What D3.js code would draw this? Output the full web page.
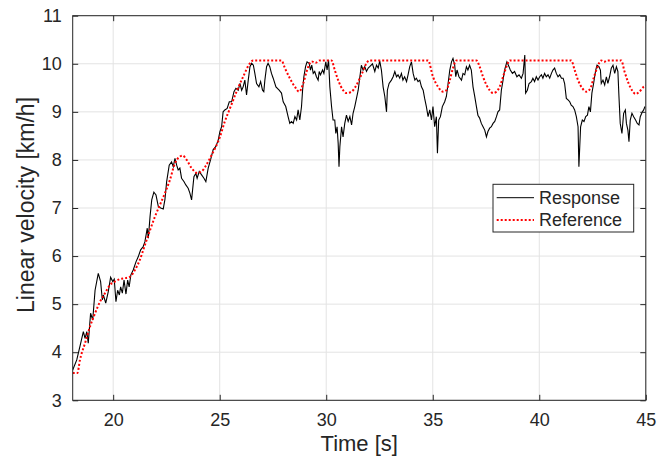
<!DOCTYPE html>
<html>
<head>
<meta charset="utf-8">
<script src="https://cdn.jsdelivr.net/npm/d3@7"></script>
<style>
  body { margin: 0; background: #fff; }
  text { font-family: "Liberation Sans", Arial, Helvetica, sans-serif; fill: #262626; }
</style>
</head>
<body>
<svg id="chart"></svg>
<script>
const margin = { top: 15.7, right: 24.2, bottom: 56.7, left: 72.7 };
const width = 670 - margin.left - margin.right;
const height = 457 - margin.top - margin.bottom;

// Tick values
const xTicks = [20, 25, 30, 35, 40, 45];
const yTicks = [3, 4, 5, 6, 7, 8, 9, 10, 11];

// Response (measured speed), time in s and velocity in km/h
const respT = [18.10, 18.29, 18.44, 18.60, 18.68, 18.76, 18.83, 18.94, 19.04, 19.15, 19.30, 19.41, 19.49, 19.54, 19.65, 19.77, 19.88, 19.98, 20.05, 20.13,
  20.21, 20.29, 20.35, 20.43, 20.51, 20.60, 20.68, 20.75, 20.83, 20.94, 21.07, 21.18, 21.29, 21.41, 21.49, 21.60, 21.65, 21.73, 21.81, 21.91,
  22.01, 22.12, 22.23, 22.35, 22.43, 22.51, 22.63, 22.74, 22.82, 22.90, 22.98, 23.05, 23.13, 23.21, 23.32, 23.41, 23.52, 23.60, 23.68, 23.79,
  23.88, 23.94, 24.04, 24.15, 24.26, 24.35, 24.46, 24.57, 24.69, 24.82, 24.93, 25.01, 25.09, 25.16, 25.24, 25.35, 25.45, 25.56, 25.67, 25.76,
  25.87, 25.95, 26.03, 26.10, 26.18, 26.26, 26.34, 26.42, 26.50, 26.58, 26.65, 26.73, 26.84, 26.92, 27.01, 27.07, 27.12, 27.20, 27.27, 27.35,
  27.43, 27.51, 27.64, 27.79, 27.90, 27.98, 28.10, 28.21, 28.29, 28.37, 28.45, 28.53, 28.61, 28.68, 28.76, 28.84, 28.89, 28.95, 29.03, 29.10,
  29.20, 29.26, 29.32, 29.39, 29.46, 29.54, 29.62, 29.67, 29.73, 29.83, 29.89, 29.98, 30.04, 30.11, 30.17, 30.25, 30.32, 30.40, 30.45, 30.51,
  30.56, 30.60, 30.64, 30.72, 30.79, 30.87, 30.95, 31.03, 31.11, 31.19, 31.26, 31.34, 31.42, 31.50, 31.58, 31.65, 31.73, 31.81, 31.89, 31.97,
  32.04, 32.17, 32.28, 32.36, 32.44, 32.51, 32.59, 32.67, 32.75, 32.83, 32.87, 32.95, 33.06, 33.14, 33.22, 33.30, 33.37, 33.45, 33.53, 33.60,
  33.68, 33.77, 33.84, 33.92, 34.00, 34.08, 34.16, 34.23, 34.31, 34.39, 34.47, 34.55, 34.62, 34.70, 34.78, 34.86, 34.94, 35.01, 35.09, 35.17,
  35.22, 35.28, 35.36, 35.45, 35.56, 35.64, 35.72, 35.80, 35.88, 35.95, 36.03, 36.08, 36.14, 36.23, 36.35, 36.42, 36.50, 36.58, 36.65, 36.73,
  36.81, 36.89, 36.97, 37.05, 37.12, 37.20, 37.28, 37.36, 37.44, 37.52, 37.59, 37.67, 37.75, 37.83, 37.91, 37.99, 38.06, 38.14, 38.22, 38.30,
  38.37, 38.48, 38.58, 38.64, 38.74, 38.84, 38.95, 39.05, 39.16, 39.24, 39.32, 39.36, 39.44, 39.52, 39.63, 39.70, 39.78, 39.86, 39.94, 40.02,
  40.10, 40.17, 40.25, 40.33, 40.41, 40.49, 40.57, 40.64, 40.72, 40.80, 40.88, 40.96, 41.04, 41.12, 41.19, 41.27, 41.35, 41.43, 41.50, 41.58,
  41.66, 41.74, 41.82, 41.86, 41.90, 41.94, 42.02, 42.10, 42.18, 42.26, 42.33, 42.40, 42.47, 42.55, 42.65, 42.71, 42.80, 42.87, 42.91, 42.99,
  43.07, 43.15, 43.22, 43.30, 43.38, 43.46, 43.54, 43.62, 43.69, 43.74, 43.80, 43.88, 43.96, 44.04, 44.09, 44.16, 44.21, 44.27, 44.35, 44.43,
  44.52, 44.60, 44.68, 44.74, 44.84, 44.90, 44.96];
const respV = [3.63, 3.84, 4.12, 4.43, 4.29, 4.43, 4.19, 4.81, 4.67, 5.29, 5.64, 5.47, 5.09, 5.19, 5.02, 5.26, 5.56, 5.47, 5.52, 5.05,
  5.29, 5.19, 5.36, 5.23, 5.50, 5.21, 5.50, 5.36, 5.61, 5.71, 5.88, 5.99, 6.13, 6.20, 6.30, 6.58, 6.37, 6.82, 7.17, 7.33,
  7.27, 7.03, 7.00, 6.98, 7.18, 7.55, 7.89, 7.96, 7.86, 8.03, 7.89, 7.79, 7.83, 7.62, 7.55, 7.48, 7.41, 7.31, 7.17, 7.65,
  7.72, 7.62, 7.76, 7.69, 7.62, 7.55, 7.83, 8.00, 8.21, 8.28, 8.41, 8.59, 8.69, 9.00, 9.04, 9.07, 9.21, 9.21, 9.42, 9.49,
  9.45, 9.59, 9.45, 9.52, 9.66, 9.35, 9.66, 9.94, 10.01, 9.97, 9.80, 9.59, 9.52, 9.63, 9.45, 9.42, 9.66, 9.94, 10.01, 9.94,
  9.80, 9.70, 9.52, 9.45, 9.39, 9.21, 9.11, 8.90, 8.76, 8.80, 8.76, 8.90, 8.83, 9.04, 8.83, 9.11, 9.45, 9.73, 9.94, 10.04,
  10.01, 9.87, 9.97, 9.80, 9.84, 9.73, 9.66, 9.84, 9.77, 9.87, 9.80, 10.04, 9.87, 10.08, 9.52, 9.11, 8.83, 8.83, 8.55, 8.69,
  8.35, 7.86, 8.28, 8.69, 8.48, 8.76, 8.93, 8.80, 8.90, 8.73, 8.97, 9.11, 9.28, 9.45, 9.73, 9.97, 9.87, 9.94, 9.84, 9.91,
  9.94, 10.00, 9.84, 9.97, 9.91, 10.06, 9.87, 9.52, 9.32, 9.00, 9.45, 9.59, 9.66, 9.73, 9.84, 9.73, 9.77, 9.70, 9.80, 9.66,
  9.73, 9.63, 9.77, 9.94, 10.04, 9.80, 9.66, 9.70, 9.63, 9.66, 9.52, 9.45, 9.28, 9.11, 8.90, 9.04, 8.83, 9.11, 8.69, 8.90,
  8.14, 8.83, 8.90, 9.11, 9.21, 9.32, 9.59, 9.87, 10.04, 10.11, 9.97, 9.73, 9.87, 9.73, 9.66, 9.80, 9.77, 9.94, 9.87, 9.97,
  9.87, 9.52, 9.32, 9.11, 8.93, 8.87, 8.76, 8.69, 8.62, 8.48, 8.59, 8.66, 8.69, 8.76, 8.80, 8.90, 9.00, 9.04, 9.45, 9.66,
  9.87, 10.04, 9.94, 9.87, 9.80, 9.84, 9.73, 9.77, 9.70, 9.80, 10.18, 9.39, 9.45, 9.59, 9.63, 9.70, 9.63, 9.73, 9.66, 9.73,
  9.77, 9.70, 9.80, 9.73, 9.77, 9.70, 9.80, 9.87, 9.91, 9.80, 9.73, 9.77, 9.70, 9.70, 9.59, 9.28, 9.25, 9.21, 9.14, 9.11,
  9.04, 8.90, 8.69, 7.86, 8.28, 8.69, 8.83, 8.80, 8.90, 8.93, 9.11, 9.00, 9.39, 9.59, 9.87, 9.97, 9.94, 9.87, 9.59, 9.66,
  9.56, 9.73, 9.59, 9.73, 9.91, 9.97, 9.80, 9.94, 9.84, 9.32, 8.76, 8.55, 8.97, 9.04, 8.76, 8.62, 8.38, 8.83, 8.97, 8.90,
  8.83, 8.76, 8.73, 8.90, 9.00, 9.04, 9.11];

// Reference (commanded speed)
const refT = [18.10, 18.32, 18.44, 18.68, 18.91, 19.15, 19.38, 19.62, 19.85, 20.08, 20.32, 20.55, 20.79, 21.02, 21.25, 21.49, 21.73, 21.96, 22.19, 22.43,
  22.66, 22.90, 23.13, 23.26, 23.45, 23.68, 23.94, 24.15, 24.38, 24.62, 25.01, 25.24, 25.48, 25.79, 26.10, 26.42, 26.57, 27.90, 28.06, 28.29,
  28.53, 28.73, 28.92, 29.08, 29.23, 29.31, 29.50, 29.70, 30.25, 30.40, 30.56, 30.79, 30.95, 31.19, 31.42, 31.65, 31.89, 32.01, 34.78, 35.01,
  35.25, 35.48, 35.64, 35.80, 35.95, 36.11, 37.05, 37.20, 37.36, 37.52, 37.67, 37.83, 37.99, 38.14, 38.30, 38.46, 38.62, 41.50, 41.66, 41.82,
  42.02, 42.21, 42.40, 42.55, 42.71, 42.91, 43.05, 43.22, 43.85, 44.00, 44.16, 44.35, 44.52, 44.70, 44.90, 45.00];
const refV = [3.57, 3.57, 3.84, 4.19, 4.53, 4.81, 5.05, 5.23, 5.40, 5.47, 5.52, 5.54, 5.57, 5.71, 5.92, 6.23, 6.54, 6.82, 7.06, 7.31,
  7.58, 7.93, 8.07, 8.09, 8.00, 7.83, 7.73, 7.76, 7.90, 8.10, 8.48, 8.80, 9.07, 9.42, 9.73, 10.01, 10.07, 10.07, 9.91, 9.70,
  9.52, 9.42, 9.59, 9.84, 10.01, 10.05, 10.02, 10.07, 10.07, 9.87, 9.66, 9.45, 9.39, 9.42, 9.56, 9.77, 10.01, 10.07, 10.07, 9.73,
  9.52, 9.42, 9.45, 9.66, 9.91, 10.07, 10.07, 9.94, 9.73, 9.56, 9.45, 9.39, 9.42, 9.52, 9.73, 9.94, 10.07, 10.07, 9.87, 9.66,
  9.49, 9.42, 9.49, 9.70, 9.91, 10.07, 10.04, 10.07, 10.07, 9.84, 9.63, 9.45, 9.37, 9.42, 9.52, 9.55];

const seriesNames = ["Response", "Reference"];

const svg = d3.select("#chart")
    .attr("width", 670)
    .attr("height", 457);

const g = svg.append("g")
    .attr("transform", `translate(${margin.left},${margin.top})`);

// Scales
const x = d3.scaleLinear().domain([18.1, 45]).range([0, width]);
const y = d3.scaleLinear().domain([3, 11]).range([height, 0]);

// Grid lines
g.append("g").selectAll("line")
    .data(xTicks)
    .enter().append("line")
    .attr("x1", d => x(d)).attr("x2", d => x(d))
    .attr("y1", 0).attr("y2", height)
    .attr("stroke", "#e3e3e3");
g.append("g").selectAll("line")
    .data(yTicks)
    .enter().append("line")
    .attr("x1", 0).attr("x2", width)
    .attr("y1", d => y(d)).attr("y2", d => y(d))
    .attr("stroke", "#e3e3e3");

// Lines
const response = respT.map((t, i) => ({ t: t, v: respV[i] }));
const reference = refT.map((t, i) => ({ t: t, v: refV[i] }));

svg.append("clipPath").attr("id", "plotclip")
    .append("rect").attr("width", width).attr("height", height);

g.append("path")
    .datum(response)
    .attr("clip-path", "url(#plotclip)")
    .attr("fill", "none")
    .attr("stroke", "#000")
    .attr("stroke-width", 1.1)
    .attr("d", d3.line().x(d => x(d.t)).y(d => y(d.v)));

g.append("path")
    .datum(reference)
    .attr("clip-path", "url(#plotclip)")
    .attr("fill", "none")
    .attr("stroke", "#ff0000")
    .attr("stroke-width", 2)
    .attr("stroke-dasharray", "2,2")
    .attr("d", d3.line().curve(d3.curveMonotoneX).x(d => x(d.t)).y(d => y(d.v)));

// Axes with inward ticks on all four sides
const tick = 5.5;
const xAxis = g.append("g")
    .attr("transform", `translate(0,${height})`)
    .call(d3.axisBottom(x).tickValues(xTicks).tickSize(-tick).tickPadding(13));
const xTop = g.append("g")
    .call(d3.axisTop(x).tickValues(xTicks).tickSize(-tick).tickFormat(""));
const yAxis = g.append("g")
    .call(d3.axisLeft(y).tickValues(yTicks).tickSize(-tick).tickPadding(11));
const yRight = g.append("g")
    .attr("transform", `translate(${width},0)`)
    .call(d3.axisRight(y).tickValues(yTicks).tickSize(-tick).tickFormat(""));

[xAxis, xTop, yAxis, yRight].forEach(a => {
    a.select(".domain").remove();
    a.selectAll("line").attr("stroke", "#262626");
    a.selectAll("text")
        .style("font-size", "18px")
        .attr("fill", "#262626");
});

// Box around plot
g.append("rect")
    .attr("width", width)
    .attr("height", height)
    .attr("fill", "none")
    .attr("stroke", "#262626")
    .attr("stroke-width", 1);

// Axis labels
g.append("text")
    .attr("x", width / 2)
    .attr("y", height + 50.5)
    .style("text-anchor", "middle")
    .style("font-size", "22px")
    .text("Time [s]");
g.append("text")
    .attr("transform", "rotate(-90)")
    .attr("x", -height / 2 + 3)
    .attr("y", 33.5 - margin.left)
    .style("text-anchor", "middle")
    .style("font-size", "23px")
    .text("Linear velocity [km/h]");

// Legend
const legend = g.append("g")
    .attr("transform", `translate(${493 - margin.left},${184.3 - margin.top})`);
legend.append("rect")
    .attr("width", 140.7)
    .attr("height", 47.7)
    .attr("fill", "#fff")
    .attr("stroke", "#262626")
    .attr("stroke-width", 1);

const items = legend.selectAll(".item")
    .data(seriesNames)
    .enter().append("g")
    .attr("class", "item")
    .attr("transform", (d, i) => `translate(0,${13.4 + i * 22.3})`);

items.append("line")
    .attr("x1", 3.7).attr("x2", 41)
    .attr("y1", 0).attr("y2", 0)
    .attr("stroke", (d, i) => i === 0 ? "#000" : "#ff0000")
    .attr("stroke-width", (d, i) => i === 0 ? 1 : 2)
    .attr("stroke-dasharray", (d, i) => i === 0 ? null : "2,2");

items.append("text")
    .attr("x", 46)
    .attr("y", 6.2)
    .style("font-size", "18px")
    .text(d => d);
</script>
</body>
</html>
